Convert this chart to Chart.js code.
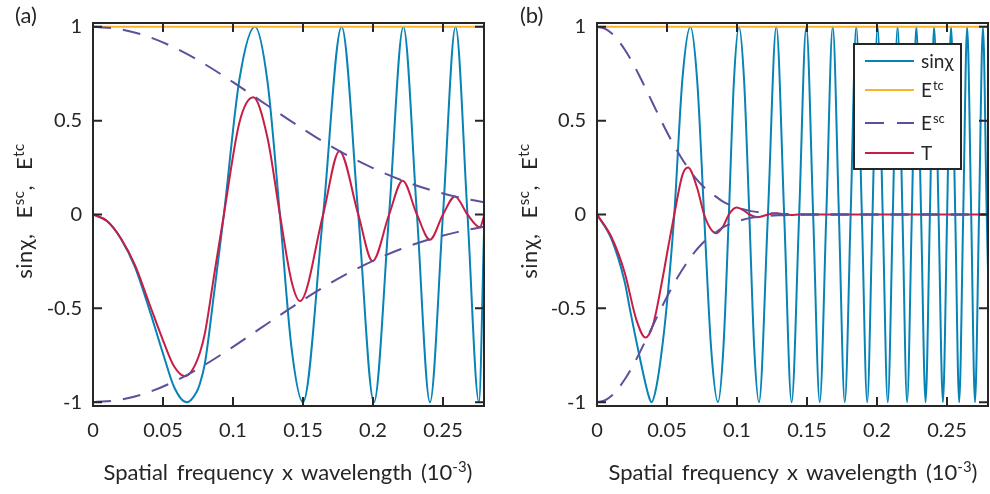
<!DOCTYPE html>
<html>
<head>
<meta charset="utf-8">
<script src="https://cdn.jsdelivr.net/npm/chart.js@4/dist/chart.umd.min.js"></script>
<style>
  html, body { margin: 0; padding: 0; background: #fff; }
  #wrap { position: relative; width: 990px; height: 494px; overflow: hidden;
          font-family: Lato, "DejaVu Sans", sans-serif; color: #262626; }
  canvas { position: absolute; top: 0; }
  #chartA { left: 0; }
  #chartB { left: 504px; }
  .lbl { position: absolute; font-size: 22px; line-height: 22px; white-space: nowrap; }
  .xtitle { transform: translateX(-50%); word-spacing: 3px; }
  .ytitle { transform: translate(-50%, -50%) rotate(-90deg); word-spacing: 9px; letter-spacing: 0.5px; }
  .sup { font-size: 0.68em; position: relative; top: -0.55em; word-spacing: 0; }
</style>
</head>
<body>
<div id="wrap">
  <canvas id="chartA" width="495" height="494"></canvas>
  <canvas id="chartB" width="486" height="494"></canvas>

  <div class="lbl" style="left:15px; top:4px;">(a)</div>
  <div class="lbl" style="left:520px; top:4px;">(b)</div>

  <div class="lbl ytitle" style="left:25px; top:211px;">sinχ, E<span class="sup">sc</span>, E<span class="sup">tc</span></div>
  <div class="lbl ytitle" style="left:530px; top:211px;">sinχ, E<span class="sup">sc</span>, E<span class="sup">tc</span></div>

  <div class="lbl xtitle" style="left:288px; top:461px;">Spatial frequency x wavelength (10<span class="sup">-3</span>)</div>
  <div class="lbl xtitle" style="left:793px; top:461px;">Spatial frequency x wavelength (10<span class="sup">-3</span>)</div>
</div>

<script>
// ---- axis ticks -------------------------------------------------------
const xTickVals   = [0, 0.05, 0.1, 0.15, 0.2, 0.25];
const xTickLabels = ['0', '0.05', '0.1', '0.15', '0.2', '0.25'];
const yTickVals   = [-1, -0.5, 0, 0.5, 1];
const yTickLabels = ['-1', '-0.5', '0', '0.5', '1'];
const xMax = 0.2793;

// ---- legend entries (panel b) -----------------------------------------
const legendMain = ['sinχ', 'E', 'E', 'T'];
const legendSup  = ['', 'tc', 'sc', ''];

// ---- temporal coherence envelope (same in both panels) ----------------
const qEtc = [0, 0.2793];
const etc  = [1, 1];

// ---- panel (a) --------------------------------------------------------
const qSinA = [0, 0.0100, 0.0200, 0.0300, 0.0400, 0.0500, 0.0580, 0.0669, 0.0740,
               0.0764, 0.0800, 0.0868, 0.0935, 0.1046, 0.1157, 0.1246, 0.1335, 0.1418, 0.1500,
               0.1644, 0.1776, 0.1895, 0.2007, 0.2115, 0.2217, 0.2314, 0.2407, 0.2500, 0.2590,
               0.2675, 0.2757, 0.2793];
const sinA  = [0, -0.035, -0.13, -0.28, -0.50, -0.74, -0.92, -1, -0.945,
               -0.90, -0.79, -0.40, 0, 0.72, 1, 0.71, 0, -0.71, -1,
               0, 1, 0, -1, 0, 1, 0, -1, 0, 1,
               0, -1, -0.1];

const qTA = [0, 0.0100, 0.0200, 0.0300, 0.0400, 0.0500, 0.0580, 0.0657, 0.0704,
             0.0764, 0.0800, 0.0868, 0.0935, 0.1046, 0.1145, 0.1246, 0.1335, 0.1418, 0.1479,
             0.1644, 0.1760, 0.1895, 0.1997, 0.2115, 0.2212, 0.2314, 0.2407, 0.2500, 0.2586,
             0.2675, 0.2764, 0.2793];
const tA  = [0, -0.035, -0.128, -0.27, -0.47, -0.67, -0.81, -0.861, -0.835,
             -0.735, -0.63, -0.31, 0, 0.49, 0.624, 0.41, 0, -0.355, -0.461,
             0, 0.337, 0, -0.248, 0, 0.18, 0, -0.134, 0, 0.096,
             0, -0.068, -0.01];

const qEscA = [0, 0.02, 0.04, 0.06, 0.08, 0.10, 0.12, 0.14, 0.16, 0.18, 0.20, 0.22, 0.24, 0.26, 0.2793];
const escA  = [1, 0.986, 0.946, 0.882, 0.80, 0.705, 0.604, 0.504, 0.408, 0.322, 0.247, 0.184, 0.133, 0.094, 0.065];

// ---- panel (b) --------------------------------------------------------
const qSinB = [0, 0.0103, 0.0198, 0.0234, 0.0305, 0.0364, 0.0389, 0.0424, 0.0471, 0.0507,
               0.0552, 0.0610, 0.0667, 0.0716, 0.0765, 0.0815, 0.0864, 0.0903, 0.0942, 0.0978,
               0.1014, 0.1051, 0.1088, 0.1123, 0.1157, 0.1221, 0.1281, 0.1337, 0.1390, 0.1444,
               0.1495, 0.1544, 0.1591, 0.1638, 0.1684, 0.1728, 0.1770, 0.1812, 0.1852, 0.1892,
               0.1930, 0.1968, 0.2004, 0.2041, 0.2077, 0.2113, 0.2147, 0.2182, 0.2215, 0.2249,
               0.2281, 0.2315, 0.2347, 0.2378, 0.2408, 0.2440, 0.2471, 0.2501, 0.2529, 0.2559,
               0.2587, 0.2616, 0.2644, 0.2673, 0.2700, 0.2729, 0.2757, 0.2784, 0.2793];
const sinB  = [0, -0.13, -0.36, -0.50, -0.76, -0.953, -1, -0.918, -0.675, -0.414,
               0, 0.72, 1, 0.71, 0, -0.71, -1, -0.71, 0, 0.71,
               1, 0.71, 0, -0.71, -1, 0, 1, 0, -1, 0,
               1, 0, -1, 0, 1, 0, -1, 0, 1, 0,
               -1, 0, 1, 0, -1, 0, 1, 0, -1, 0,
               1, 0, -1, 0, 1, 0, -1, 0, 1, 0,
               -1, 0, 1, 0, -1, 0, 1, 0, -0.3];

const qTB = [0, 0.0103, 0.0198, 0.0281, 0.0346, 0.0400, 0.0471, 0.0507, 0.0552, 0.0610,
             0.0650, 0.0716, 0.0765, 0.0815, 0.0853, 0.0903, 0.0942, 0.0996, 0.1051, 0.1088,
             0.1150, 0.1221, 0.1281, 0.1337, 0.1390, 0.1444, 0.2793];
const tB  = [0, -0.12, -0.31, -0.56, -0.655, -0.588, -0.33, -0.18, 0, 0.21,
             0.25, 0.14, 0, -0.08, -0.10, -0.06, 0, 0.037, 0.02, 0,
             -0.014, 0, 0.006, 0, -0.002, 0, 0];

const qEscB = [0, 0.005, 0.01, 0.015, 0.02, 0.025, 0.03, 0.035, 0.04, 0.045,
               0.05, 0.055, 0.06, 0.065, 0.07, 0.075, 0.08, 0.085, 0.09, 0.095,
               0.10, 0.11, 0.12, 0.13, 0.14, 0.15, 0.2793];
const escB  = [1, 0.992, 0.968, 0.928, 0.876, 0.814, 0.743, 0.667, 0.590, 0.513,
               0.438, 0.368, 0.305, 0.248, 0.198, 0.156, 0.121, 0.095, 0.069, 0.051,
               0.037, 0.018, 0.0086, 0.0038, 0.0015, 0.0006, 0];

// ---- styling ------------------------------------------------------------
const FONT   = 'Lato, "DejaVu Sans", sans-serif';
const INK    = '#262626';
const BLUE   = '#0783B6';
const ORANGE = '#FBB22C';
const PURPLE = '#5D4F9C';
const RED    = '#C71E45';
const DASH   = [18, 12];

function pts(qs, vs) { return qs.map((q, i) => ({ x: q, y: vs[i] })); }
function mirrored(vs) { return vs.map(v => -v); }

function lineSet(label, data, color, order, dash) {
  return {
    label, data, order,
    borderColor: color, backgroundColor: color,
    borderWidth: 2, borderDash: dash || [],
    borderCapStyle: 'butt', borderJoinStyle: 'round',
    pointRadius: 0, pointHoverRadius: 0,
    fill: false, tension: 0.4, cubicInterpolationMode: 'monotone',
    clip: 0
  };
}

// box frame with inward tick marks on all four sides
const framePlugin = {
  id: 'frame',
  afterDatasetsDraw(chart) {
    const { ctx, chartArea: a, scales } = chart;
    const len = 9;
    ctx.save();
    ctx.strokeStyle = INK;
    ctx.lineWidth = 2;
    ctx.beginPath();
    xTickVals.forEach(v => {
      const px = scales.x.getPixelForValue(v);
      ctx.moveTo(px, a.bottom); ctx.lineTo(px, a.bottom - len);
      ctx.moveTo(px, a.top);    ctx.lineTo(px, a.top + len);
    });
    yTickVals.forEach(v => {
      const py = scales.y.getPixelForValue(v);
      ctx.moveTo(a.left, py);  ctx.lineTo(a.left + len, py);
      ctx.moveTo(a.right, py); ctx.lineTo(a.right - len, py);
    });
    ctx.stroke();
    ctx.strokeRect(a.left, a.top, a.right - a.left, a.bottom - a.top);
    ctx.restore();
  }
};

// boxed legend with superscript labels
const legendPlugin = {
  id: 'boxLegend',
  afterDraw(chart, args, opts) {
    if (!opts || !opts.show) return;
    const ctx = chart.ctx;
    const bx = opts.x, by = opts.y, bw = opts.w, bh = opts.h;
    ctx.save();
    ctx.fillStyle = '#fff';
    ctx.fillRect(bx, by, bw, bh);
    ctx.strokeStyle = INK;
    ctx.lineWidth = 2;
    ctx.strokeRect(bx, by, bw, bh);
    const styles = [
      { color: BLUE, dash: [] }, { color: ORANGE, dash: [] },
      { color: PURPLE, dash: DASH.map(d => d + 1) }, { color: RED, dash: [] }
    ];
    legendMain.forEach((name, i) => {
      const y = opts.rows[i];
      ctx.beginPath();
      ctx.setLineDash(styles[i].dash);
      ctx.strokeStyle = styles[i].color;
      ctx.lineWidth = 2;
      ctx.moveTo(bx + 11, y); ctx.lineTo(bx + 60, y);
      ctx.stroke();
      ctx.setLineDash([]);
      ctx.fillStyle = INK;
      ctx.textBaseline = 'alphabetic';
      ctx.font = '19px ' + FONT;
      const tx = bx + 67, base = y + 7;
      ctx.fillText(name, tx, base);
      if (legendSup[i]) {
        const w = ctx.measureText(name).width;
        ctx.font = '13px ' + FONT;
        ctx.fillText(legendSup[i], tx + w + 1, base - 7);
      }
    });
    ctx.restore();
  }
};

function makePanel(canvasId, sets, legendOpts) {
  const cv = document.getElementById(canvasId);
  const W = cv.width;
  return new Chart(cv, {
    type: 'line',
    data: { datasets: sets },
    options: {
      responsive: false, animation: false, devicePixelRatio: 1,
      layout: { padding: { left: 0, right: W - 484, top: 16, bottom: 0 } },
      scales: {
        x: {
          type: 'linear', min: 0, max: xMax,
          afterBuildTicks: s => { s.ticks = xTickVals.map(v => ({ value: v })); },
          afterFit: s => { s.height = 88; },
          ticks: {
            callback: v => xTickLabels[xTickVals.indexOf(v)],
            font: { family: FONT, size: 20 }, color: INK,
            padding: 13, maxRotation: 0, autoSkip: false
          },
          grid: { display: false, drawTicks: false, tickLength: 0 },
          border: { display: false }
        },
        y: {
          type: 'linear', min: -1.02, max: 1.02,
          afterBuildTicks: s => { s.ticks = yTickVals.map(v => ({ value: v })); },
          afterFit: s => { s.width = 93; },
          ticks: {
            callback: v => yTickLabels[yTickVals.indexOf(v)],
            font: { family: FONT, size: 20 }, color: INK,
            padding: 11, autoSkip: false
          },
          grid: { display: false, drawTicks: false, tickLength: 0 },
          border: { display: false }
        }
      },
      plugins: {
        legend: { display: false },
        tooltip: { enabled: false },
        boxLegend: legendOpts || { show: false }
      }
    },
    plugins: [framePlugin, legendPlugin]
  });
}

function panelSets(qSin, sin, qT, t, qEsc, esc) {
  return [
    lineSet('Esc', pts(qEsc, esc), PURPLE, 0, DASH),
    lineSet('Esc', pts(qEsc, mirrored(esc)), PURPLE, 0, DASH),
    lineSet('T', pts(qT, t), RED, 1),
    lineSet('Etc', pts(qEtc, etc), ORANGE, 2),
    lineSet('sinχ', pts(qSin, sin), BLUE, 3)
  ];
}

makePanel('chartA', panelSets(qSinA, sinA, qTA, tA, qEscA, escA));
makePanel('chartB', panelSets(qSinB, sinB, qTB, tB, qEscB, escB),
          { show: true, x: 350, y: 44, w: 107, h: 125, rows: [61, 90, 123, 153] });
</script>
</body>
</html>
